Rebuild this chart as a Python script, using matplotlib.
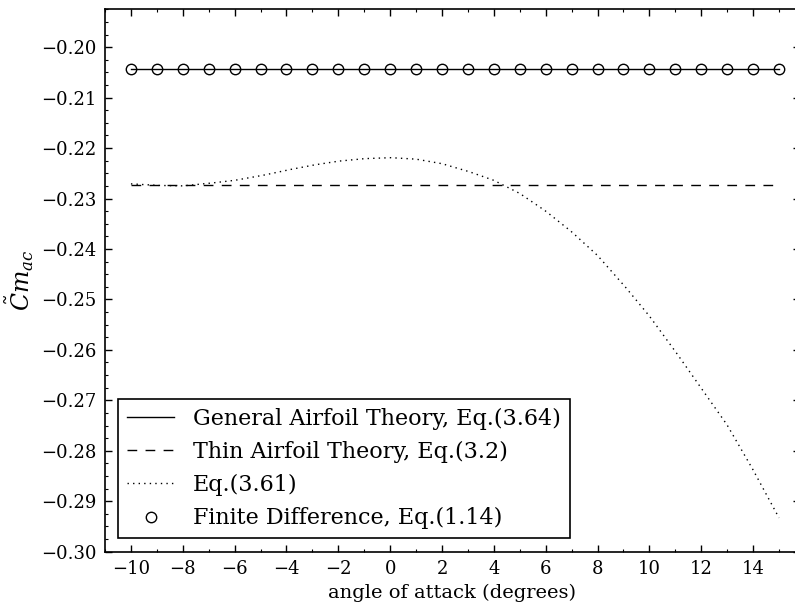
import numpy as np
import matplotlib
matplotlib.use("Agg")
import matplotlib.pyplot as plt
from matplotlib.ticker import MultipleLocator, FuncFormatter

# ---------------------------------------------------------------------------
# Data
# ---------------------------------------------------------------------------
alpha = list(range(-10, 16))

cm_general = [-0.2044] * len(alpha)
cm_thin = [-0.2273] * len(alpha)
cm_finite = [-0.2044] * len(alpha)

cm_eq361 = [
    -0.2271, -0.2274, -0.2275, -0.2270, -0.2264, -0.2255, -0.2244, -0.2234,
    -0.2226, -0.2221, -0.2219, -0.2222, -0.2231, -0.2246, -0.2264, -0.2290,
    -0.2325, -0.2366, -0.2413, -0.2471, -0.2533, -0.2603, -0.2676, -0.2749,
    -0.2838, -0.2933,
]

# ---------------------------------------------------------------------------
# Style
# ---------------------------------------------------------------------------
plt.rcParams["font.family"] = "DejaVu Serif"
plt.rcParams["mathtext.fontset"] = "dejavuserif"
plt.rcParams["xtick.direction"] = "in"
plt.rcParams["ytick.direction"] = "in"
plt.rcParams["xtick.top"] = True
plt.rcParams["ytick.right"] = True

fig = plt.figure(figsize=(7.95, 6.04), dpi=100)
ax = fig.add_axes([0.1321, 0.0866, 0.8739, 0.898])

ax.plot(alpha, cm_general, "k-", lw=1.0,
        label="General Airfoil Theory, Eq.(3.64)")
ax.plot(alpha, cm_thin, "k", lw=1.0, dashes=(7, 6),
        label="Thin Airfoil Theory, Eq.(3.2)")

# smooth the dotted curve through the read points
xs = np.linspace(-10, 15, 300)
ys = np.interp(xs, alpha, cm_eq361)
ax.plot(xs, ys, "k", lw=1.0, dashes=(1, 3), label="Eq.(3.61)")

ax.plot(alpha, cm_finite, "o", ms=7.5, mfc="none", mec="k", mew=1.0,
        label="Finite Difference, Eq.(1.14)")

ax.set_xlim(-11, 15.8)
ax.set_ylim(-0.30, -0.1925)
ax.xaxis.set_major_locator(MultipleLocator(2))
ax.xaxis.set_minor_locator(MultipleLocator(1))
ax.yaxis.set_major_locator(MultipleLocator(0.01))
ax.yaxis.set_minor_locator(MultipleLocator(0.0025))
ax.yaxis.set_major_formatter(FuncFormatter(
    lambda v, p: f"{v:.2f}".replace("-", "\u2212")))
ax.tick_params(which="major", length=5, width=1, labelsize=13, pad=6)
ax.tick_params(which="minor", length=2.5, width=0.8)
for s in ax.spines.values():
    s.set_linewidth(1.2)

ax.set_xlabel("angle of attack (degrees)", fontsize=14)
ax.set_ylabel(r"$\tilde{C}m_{ac}$", fontsize=17)

leg = ax.legend(loc="lower left", fontsize=16, fancybox=False, numpoints=1,
                handlelength=2.1, handletextpad=0.85, borderaxespad=0.6,
                labelspacing=0.5, framealpha=1)
leg.get_frame().set_edgecolor("k")
leg.get_frame().set_linewidth(1.2)

fig.savefig("out.png", dpi=100)
